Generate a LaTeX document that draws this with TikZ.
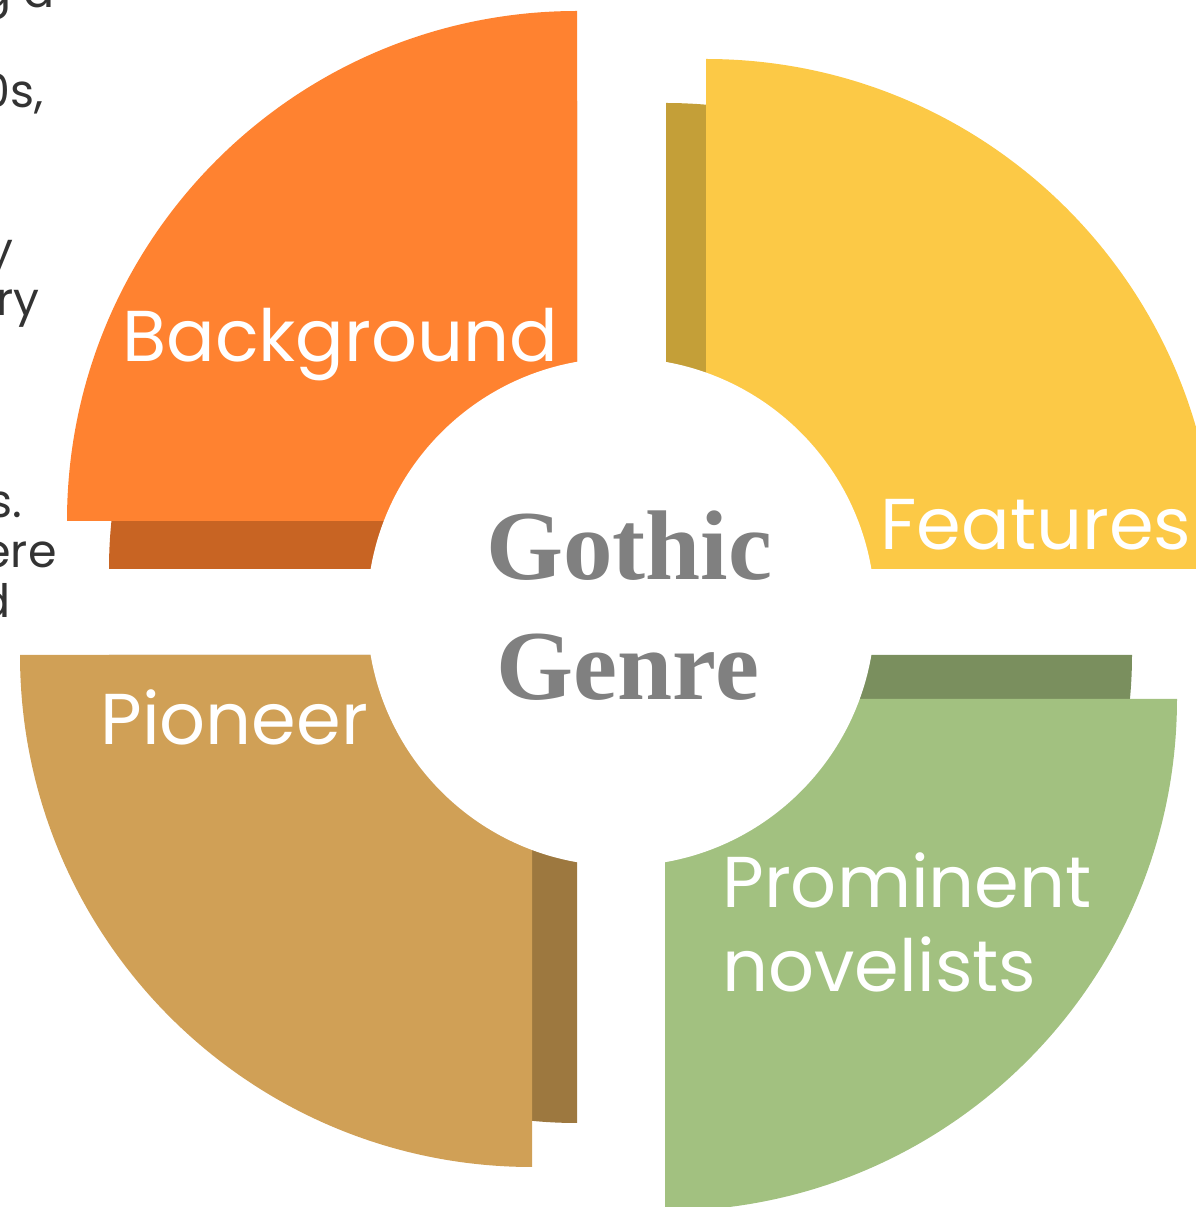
\documentclass[tikz,border=0pt]{standalone}
\usepackage{fontspec}
\setmainfont{Liberation Serif}
\newfontfamily\roundfont{Poppins}
\usetikzlibrary{positioning}

\definecolor{bgMain}{HTML}{FF8230}
\definecolor{bgDark}{HTML}{C86423}
\definecolor{ftMain}{HTML}{FCC946}
\definecolor{ftDark}{HTML}{C49F38}
\definecolor{pnMain}{HTML}{A2C180}
\definecolor{pnDark}{HTML}{7A8F5E}
\definecolor{piMain}{HTML}{D0A056}
\definecolor{piDark}{HTML}{9D783F}
\definecolor{hubGray}{HTML}{808080}
\definecolor{noteGray}{HTML}{333333}

\tikzstyle{segText} = [inner sep=0pt, text=white, font=\roundfont\fontsize{36}{42}\selectfont]
\tikzstyle{hubText} = [inner sep=0pt, text=hubGray, font=\bfseries\fontsize{49.5}{59}\selectfont]
\tikzstyle{noteText} = [inner sep=0pt, text=noteGray, font=\roundfont\fontsize{23}{25}\selectfont]

\begin{document}
\begin{tikzpicture}[x=0.5pt,y=0.5pt]
\useasboundingbox (0,0) rectangle (1196,1207);
\clip (0,0) rectangle (1196,1207);

% cut-off paragraph on the left
\node (noteA) [noteText, anchor=base east] at (55,1199) {g a};
\node (noteB) [noteText, anchor=base east] at (44,1099) {0s,};
\node (noteC) [noteText, anchor=base east] at (14,941) {y};
\node (noteD) [noteText, anchor=base east] at (40,891) {ry};
\node (noteE) [noteText, anchor=base east] at (23,689) {s.};
\node (noteF) [noteText, anchor=base east] at (57,639) {ere};
\node (noteG) [noteText, anchor=base east] at (11,589) {d};

% shadow quarters
\fill[bgDark] (577,638) -- ++(90:234pt) arc[start angle=90, end angle=180, radius=234pt] -- cycle;
\fill[ftDark] (666,638) -- ++(0:233pt) arc[start angle=0, end angle=90, radius=233pt] -- cycle;
\fill[pnDark] (665,552) -- ++(270:233.5pt) arc[start angle=270, end angle=360, radius=233.5pt] -- cycle;
\fill[piDark] (577,552) -- ++(180:234pt) arc[start angle=180, end angle=270, radius=234pt] -- cycle;

% main quarters
\fill[bgMain] (577,686) -- ++(90:255pt) arc[start angle=90, end angle=180, radius=255pt] -- cycle;
\fill[ftMain] (706,638) -- ++(0:255pt) arc[start angle=0, end angle=90, radius=255pt] -- cycle;
\fill[pnMain] (665,508) -- ++(270:256pt) arc[start angle=270, end angle=360, radius=256pt] -- cycle;
\fill[piMain] (532,552) -- ++(180:256pt) arc[start angle=180, end angle=270, radius=256pt] -- cycle;

% hub
\fill[white] (621,595) circle[radius=127pt];

\node (gothic) [hubText, anchor=base] at (629,627) {Gothic};
\node (genre) [hubText, anchor=base] at (628,507) {Genre};

\node (background) [segText, anchor=base west] at (122,845) {Background};
\node (features) [segText, anchor=base west] at (880,657) {Features};
\node (pioneer) [segText, anchor=base west] at (100,462) {Pioneer};
\node (prominent) [segText, anchor=base west] at (722,299) {Prominent};
\node (novelists) [segText, anchor=base west] at (722,215) {novelists};

\end{tikzpicture}
\end{document}
